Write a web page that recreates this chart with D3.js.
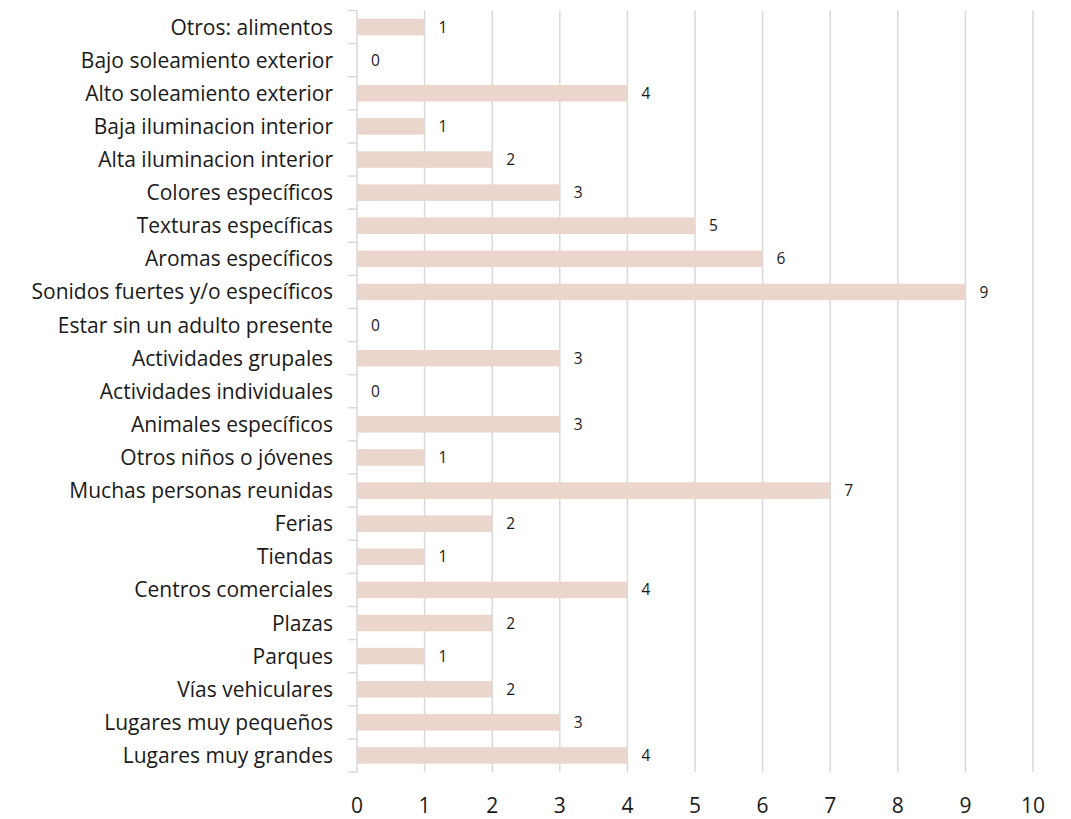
<!DOCTYPE html>
<html>
<head>
<meta charset="utf-8">
<script src="https://cdn.jsdelivr.net/npm/d3@7"></script>
<style>
  html, body { margin: 0; padding: 0; background: #fff; }
  svg text { font-family: "Open Sans", Lato, sans-serif; fill: #1a1a1a; }
</style>
</head>
<body>
<svg id="chart" width="1071" height="819"></svg>
<script>
// Categories listed top to bottom
const categories = [
  "Otros: alimentos",
  "Bajo soleamiento exterior",
  "Alto soleamiento exterior",
  "Baja iluminacion interior",
  "Alta iluminacion interior",
  "Colores específicos",
  "Texturas específicas",
  "Aromas específicos",
  "Sonidos fuertes y/o específicos",
  "Estar sin un adulto presente",
  "Actividades grupales",
  "Actividades individuales",
  "Animales específicos",
  "Otros niños o jóvenes",
  "Muchas personas reunidas",
  "Ferias",
  "Tiendas",
  "Centros comerciales",
  "Plazas",
  "Parques",
  "Vías vehiculares",
  "Lugares muy pequeños",
  "Lugares muy grandes"
];
const values = [1, 0, 4, 1, 2, 3, 5, 6, 9, 0, 3, 0, 3, 1, 7, 2, 1, 4, 2, 1, 2, 3, 4];
const xTicks = [0, 1, 2, 3, 4, 5, 6, 7, 8, 9, 10];

const svg = d3.select("#chart");
const plotLeft = 357, plotRight = 1033, plotTop = 10.5, plotBottom = 772;

const x = d3.scaleLinear().domain([0, 10]).range([plotLeft, plotRight]);
const y = d3.scaleBand().domain(categories).range([plotTop, plotBottom]).paddingInner(0.5).paddingOuter(0.25);

// Vertical gridlines
svg.append("g")
  .selectAll("line")
  .data(xTicks.slice(1))
  .join("line")
  .attr("x1", d => x(d)).attr("x2", d => x(d))
  .attr("y1", plotTop).attr("y2", plotBottom)
  .attr("stroke", "#d9d9d9").attr("stroke-width", 1.5);

// Bars
svg.append("g")
  .selectAll("rect")
  .data(values)
  .join("rect")
  .attr("x", x(0))
  .attr("y", (d, i) => y(categories[i]))
  .attr("width", d => x(d) - x(0))
  .attr("height", y.bandwidth())
  .attr("fill", "#ebd6cd");

// Value labels
svg.append("g")
  .selectAll("text")
  .data(values)
  .join("text")
  .attr("x", d => x(d) + 14)
  .attr("y", (d, i) => y(categories[i]) + y.bandwidth() / 2)
  .attr("dy", "0.36em")
  .attr("font-size", 15.5)
  .text(d => d);

// Category axis: line plus boundary ticks
const step = (plotBottom - plotTop) / categories.length;
const cat = svg.append("g");
cat.append("line")
  .attr("x1", plotLeft).attr("x2", plotLeft)
  .attr("y1", plotTop).attr("y2", plotBottom)
  .attr("stroke", "#d9d9d9").attr("stroke-width", 1.5);
cat.selectAll("line.tick")
  .data(d3.range(categories.length + 1))
  .join("line")
  .attr("class", "tick")
  .attr("x1", plotLeft - 9).attr("x2", plotLeft)
  .attr("y1", i => plotTop + i * step).attr("y2", i => plotTop + i * step)
  .attr("stroke", "#d9d9d9").attr("stroke-width", 1.5);
cat.selectAll("text")
  .data(categories)
  .join("text")
  .attr("x", 333)
  .attr("y", d => y(d) + y.bandwidth() / 2)
  .attr("dy", "0.36em")
  .attr("text-anchor", "end")
  .attr("font-size", 21)
  .text(d => d);

// Value axis labels
svg.append("g")
  .selectAll("text")
  .data(xTicks)
  .join("text")
  .attr("x", d => x(d))
  .attr("y", 805)
  .attr("dy", "0.36em")
  .attr("text-anchor", "middle")
  .attr("font-size", 21)
  .text(d => d);
</script>
</body>
</html>
